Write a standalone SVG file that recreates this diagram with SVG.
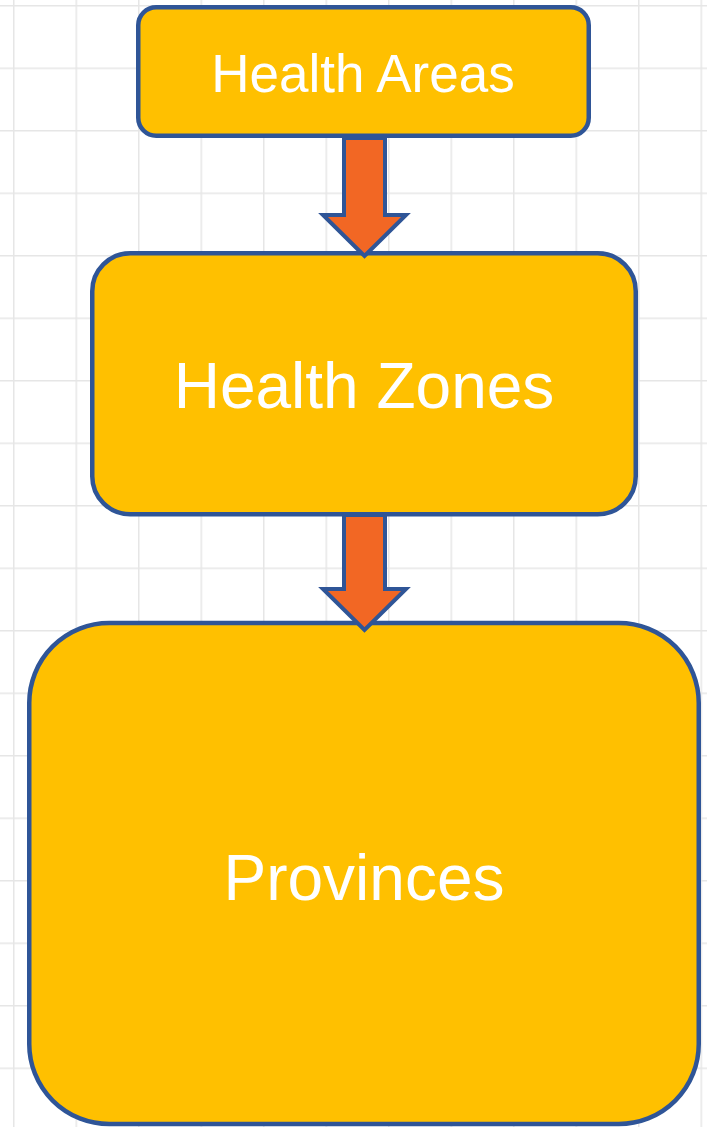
<svg xmlns="http://www.w3.org/2000/svg" width="707" height="1127" viewBox="0 0 707 1127">
  <defs>
    <pattern id="grid" x="13" y="5" width="62.5" height="62.5" patternUnits="userSpaceOnUse">
      <path d="M0 0V62.5M0 0H62.5" fill="none" stroke="#e6e6e6" stroke-width="3"/>
    </pattern>
  </defs>
  <style>
    .box { fill: #FFC000; stroke: #2F5597; stroke-width: 4.5; }
    .label { fill: #FFFFFF; font-family: "Liberation Sans", Arial, sans-serif; text-anchor: middle; }
    .arrow { fill: #F26724; stroke: #2F5597; stroke-width: 4; stroke-linejoin: miter; }
  </style>

  <!-- background grid -->
  <rect width="707" height="1127" fill="#FFFFFF"/>
  <rect width="707" height="1127" fill="url(#grid)"/>

  <g id="node-health-areas">
    <rect class="box" x="138.25" y="7.25" width="450.5" height="128.5" rx="18" ry="18"/>
    <text class="label" x="363" y="92" font-size="53">Health Areas</text>
  </g>

  <g id="node-health-zones">
    <rect class="box" x="92.25" y="253.25" width="543.5" height="261" rx="38" ry="38"/>
    <text class="label" x="364" y="408" font-size="64">Health Zones</text>
  </g>

  <g id="node-provinces">
    <rect class="box" x="29.25" y="623" width="669.5" height="501" rx="80" ry="80"/>
    <text class="label" x="364" y="900" font-size="64">Provinces</text>
  </g>

  <g id="connectors">
    <polygon class="arrow" points="344,138 385,138 385,215 406,215 364.5,256 323,215 344,215"/>
    <polygon class="arrow" points="344,515 385,515 385,589 406,589 364.5,630 323,589 344,589"/>
  </g>
</svg>
